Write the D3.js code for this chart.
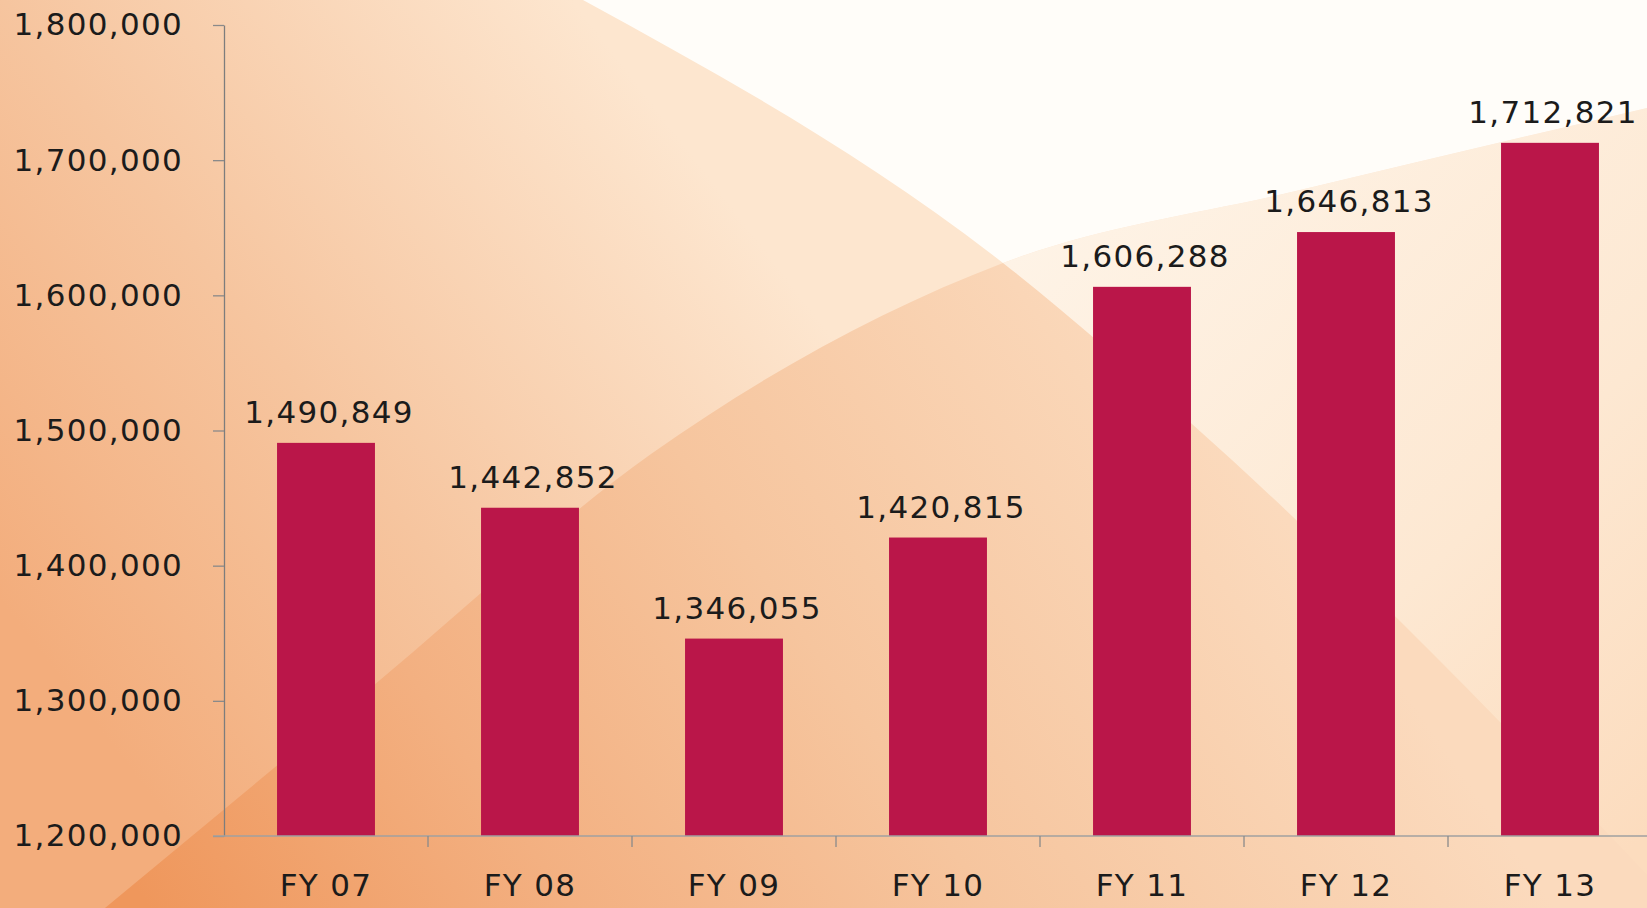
<!DOCTYPE html>
<html>
<head>
<meta charset="utf-8">
<script src="https://cdn.jsdelivr.net/npm/d3@7"></script>
<style>
  html, body { margin: 0; padding: 0; background: #fff; }
  svg { display: block; }
  .lbl { font-family: "DejaVu Sans", sans-serif; font-size: 31px; letter-spacing: 1.3px; fill: #1b1b1b; }
</style>
</head>
<body>
<svg id="chart" width="1647" height="908"></svg>
<script>
// ---- data ----
const categories = ["FY 07", "FY 08", "FY 09", "FY 10", "FY 11", "FY 12", "FY 13"];
const values = [1490849, 1442852, 1346055, 1420815, 1606288, 1646813, 1712821];
const yTickValues = [1200000, 1300000, 1400000, 1500000, 1600000, 1700000, 1800000];

// ---- layout ----
const W = 1647, H = 908;
const plot = { left: 224, right: 1652, top: 25, bottom: 836 };

const svg = d3.select("#chart");
const defs = svg.append("defs");

function linGrad(id, x1, y1, x2, y2, stops) {
  const g = defs.append("linearGradient").attr("id", id)
    .attr("gradientUnits", "userSpaceOnUse")
    .attr("x1", x1).attr("y1", y1).attr("x2", x2).attr("y2", y2);
  stops.forEach(([o, c]) => g.append("stop").attr("offset", o).attr("stop-color", c));
}

linGrad("gB", 0, 600, 650, 100, [[0, "#f3ad7c"], [0.45, "#f6c59f"], [1, "#fde6cf"]]);
linGrad("gA", 150, 908, 1100, 250, [[0, "#ef975c"], [0.3, "#f3b081"], [0.6, "#f6c59e"], [1, "#fbdabd"]]);
linGrad("gC", 1000, 270, 1600, 880, [[0, "#fef3e6"], [0.6, "#fde8d2"], [1, "#fcdcbe"]]);

// background decoration curves (not data)
const rising = [[105, 908], [380, 680], [651, 454], [1003, 263], [1300, 190], [1647, 108]];
const descending = [[583, 0], [1003, 263], [1192, 424], [1700, 930]];
const curve = d3.line().curve(d3.curveMonotoneX);

const belowRising = curve(rising) + `L${W},${H}Z`;
const aboveRising = curve(rising) + `L${W},0L0,0L0,${H}Z`;
const rightOfDesc = curve(descending) + `L1700,0Z`;

defs.append("clipPath").attr("id", "clipBelow").append("path").attr("d", belowRising);
defs.append("clipPath").attr("id", "clipAbove").append("path").attr("d", aboveRising);

const bg = svg.append("g");
bg.append("rect").attr("width", W).attr("height", H).attr("fill", "url(#gB)");
bg.append("path").attr("d", belowRising).attr("fill", "url(#gA)");
bg.append("path").attr("d", rightOfDesc).attr("fill", "url(#gC)").attr("clip-path", "url(#clipBelow)");
bg.append("path").attr("d", rightOfDesc).attr("fill", "#fffdf9").attr("clip-path", "url(#clipAbove)");

// ---- scales ----
const x = d3.scaleBand().domain(categories)
  .range([plot.left, plot.right]).paddingInner(0.52).paddingOuter(0.26);
const y = d3.scaleLinear().domain([1200000, 1800000]).range([plot.bottom, plot.top]);

// ---- bars ----
svg.append("g").selectAll("rect").data(values).join("rect")
  .attr("x", (d, i) => x(categories[i]))
  .attr("width", x.bandwidth())
  .attr("y", d => y(d))
  .attr("height", d => y(1200000) - y(d))
  .attr("fill", "#ba1649");

// ---- value labels ----
svg.append("g").selectAll("text").data(values).join("text")
  .attr("class", "lbl")
  .attr("text-anchor", "middle")
  .attr("x", (d, i) => x(categories[i]) + x.bandwidth() / 2 + 3)
  .attr("y", d => y(d) - 20)
  .text(d => d3.format(",")(d));

// ---- y axis ----
const yAxis = svg.append("g").attr("transform", `translate(${plot.left},0)`)
  .call(d3.axisLeft(y).tickValues(yTickValues).tickSize(11).tickSizeOuter(0)
    .tickPadding(30).tickFormat(d3.format(",")));
yAxis.select(".domain").attr("stroke", "#7d7d7d").attr("stroke-width", 1.3);
yAxis.selectAll(".tick line").attr("stroke", "#8a8a8a").attr("stroke-width", 1.3);
yAxis.selectAll(".tick text").attr("class", "lbl").attr("fill", "#1b1b1b").attr("font-family", null).attr("font-size", null);

// ---- x axis ----
const xAxis = svg.append("g").attr("transform", `translate(0,${plot.bottom})`)
  .call(d3.axisBottom(x).tickSize(0).tickPadding(38));
xAxis.select(".domain").remove();
xAxis.append("line").attr("x1", plot.left - 11).attr("x2", W)
  .attr("stroke", "#a0a0a0").attr("stroke-width", 1.6);
xAxis.selectAll(".tick text").attr("class", "lbl").attr("fill", "#1b1b1b").attr("font-family", null).attr("font-size", null);
// separator ticks at band boundaries
const gapHalf = x.step() * x.paddingInner() / 2;
xAxis.append("g").selectAll("line").data(categories.slice(1)).join("line")
  .attr("x1", d => x(d) - gapHalf).attr("x2", d => x(d) - gapHalf)
  .attr("y1", 0).attr("y2", 11)
  .attr("stroke", "#8a8a8a").attr("stroke-width", 1.3);
</script>
</body>
</html>
